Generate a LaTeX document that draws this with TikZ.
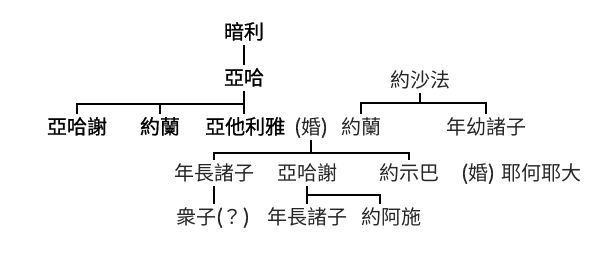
\documentclass[tikz,border=0pt]{standalone}
\usepackage{fontspec}
\newfontfamily\cjk{Noto Sans CJK TC}
\newfontfamily\cjkb{Noto Sans CJK TC}[FakeBold=0.9]
\begin{document}
\begin{tikzpicture}[x=1pt,y=-1pt,
  person/.style={font=\cjk\fontsize{20}{24}\selectfont, text=black!85, inner xsep=0pt, inner ysep=4pt, text height=16pt, text depth=2pt},
  elder/.style={person, font=\cjkb\fontsize{20}{24}\selectfont, text=black},
  link/.style={line width=2.8pt}]
\useasboundingbox (0,0) rectangle (610,257);
% row 0
\node[elder] (omri) at (244,32) {暗利};
\node[elder] (ahab) at (244,78) {亞哈};
\node[person] (jehoshaphat) at (420,80) {約沙法};
% row 1
\node[elder] (ahaziahA) at (77,127) {亞哈謝};
\node[elder] (joramA) at (160,127) {約蘭};
\node[elder, anchor=west] (athaliah) at (205,127) {亞他利雅};
\node[person] (wedA) at (311,127) {{\cjkb(}婚{\cjkb)}};
\node[person] (joramB) at (361,127) {約蘭};
\node[person] (youngsons) at (486,127) {年幼諸子};
% row 2
\node[person] (eldersA) at (214,173) {年長諸子};
\node[person] (ahaziahB) at (307,173) {亞哈謝};
\node[person] (jehosheba) at (409,173) {約示巴};
\node[person] (wedB) at (478,173) {{\cjkb (}婚{\cjkb )}};
\node[person] (jehoiada) at (541,173) {耶何耶大};
% row 3
\node[person, anchor=west] (sons) at (176,217) {衆子{\cjkb (}？{\cjkb )}};
\node[person] (eldersB) at (307,217) {年長諸子};
\node[person] (joash) at (391,217) {約阿施};
% bars
\coordinate (barA) at (0,104);
\coordinate (barB) at (0,103);
\coordinate (barC) at (0,153);
\coordinate (barD) at (380,195);
% connectors
\draw[link] (omri.south) -- (ahab.north);
\draw[link] (ahab.south) -- (ahab.south |- athaliah.north);
\draw[link] (ahaziahA.north) |- (ahab.south |- barA);
\draw[link] (joramA.north) -- (joramA.north |- barA);
\draw[link] (jehoshaphat.south) -- (jehoshaphat.south |- barB);
\draw[link] (joramB.north) |- (jehoshaphat.south |- barB) -| (youngsons.north);
\draw[link] (wedA.south) -- (wedA.south |- barC);
\draw[link] (eldersA.north) |- (jehosheba.north |- barC) -- (jehosheba.north);
\draw[link] (eldersA.south) -- (eldersA.south |- sons.north);
\draw[link] (ahaziahB.south) -- (eldersB.north);
\draw[link] (ahaziahB.south |- barD) -- (barD) -- (barD |- joash.north);
\end{tikzpicture}
\end{document}
